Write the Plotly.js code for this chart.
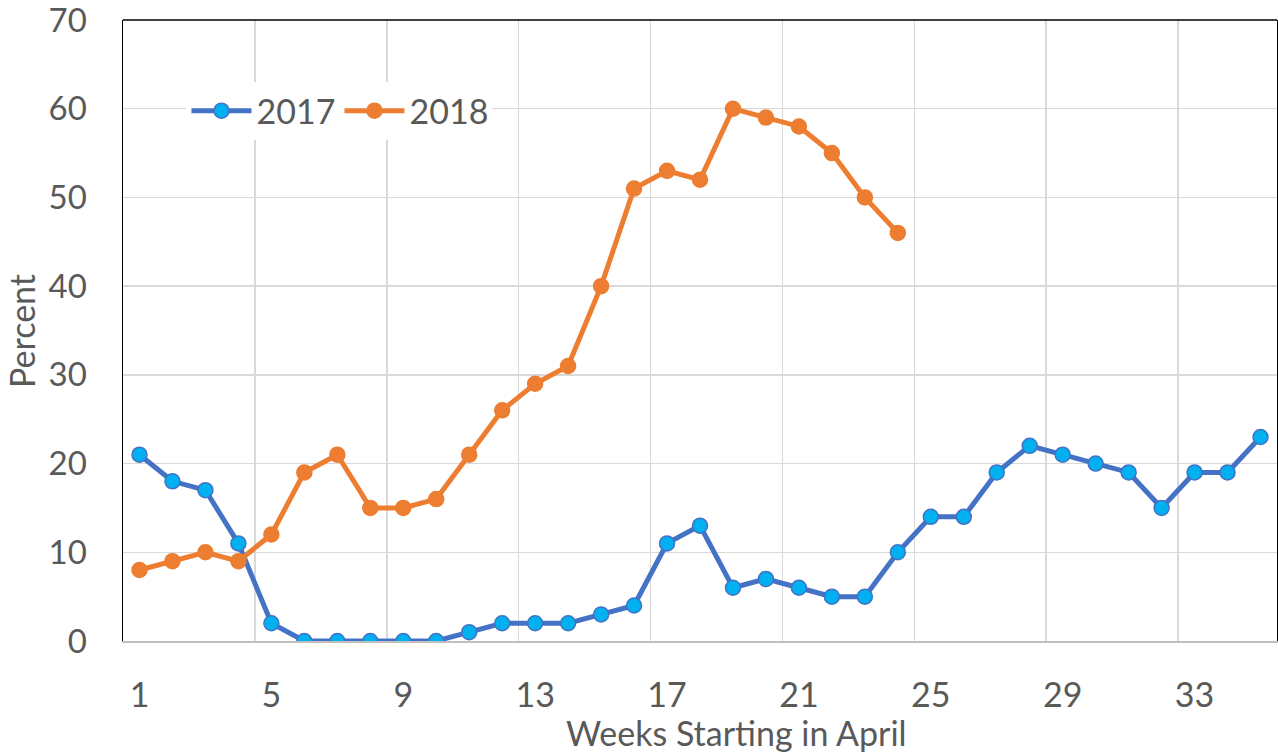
<!DOCTYPE html>
<html><head><meta charset="utf-8">
<script src="https://cdn.plot.ly/plotly-3.0.1.min.js"></script>
<style>html,body{margin:0;padding:0;background:#fff}#chart{width:1278px;height:756px}</style>
</head><body><div id="chart"></div>
<script>
const weeks2017 = [1,2,3,4,5,6,7,8,9,10,11,12,13,14,15,16,17,18,19,20,21,22,23,24,25,26,27,28,29,30,31,32,33,34,35];
const values2017 = [21,18,17,11,2,0,0,0,0,0,1,2,2,2,3,4,11,13,6,7,6,5,5,10,14,14,19,22,21,20,19,15,19,19,23];
const weeks2018 = [1,2,3,4,5,6,7,8,9,10,11,12,13,14,15,16,17,18,19,20,21,22,23,24];
const values2018 = [8,9,10,9,12,19,21,15,15,16,21,26,29,31,40,51,53,52,60,59,58,55,50,46];
const xTickVals = [1,5,9,13,17,21,25,29,33];
const xTickText = ["1","5","9","13","17","21","25","29","33"];
const seriesNames = ["2017","2018"];

const font = "Lato, 'Liberation Sans', sans-serif";
const grey = "#595959";
const fs = 34;

const traces = [
  {x: weeks2017, y: values2017, name: seriesNames[0], type: "scatter", mode: "lines+markers",
   line: {color: "#4472C4", width: 5},
   marker: {size: 15, color: "#00B0F0", line: {color: "#4472C4", width: 1.5}}},
  {x: weeks2018, y: values2018, name: seriesNames[1], type: "scatter", mode: "lines+markers",
   line: {color: "#ED7D31", width: 5},
   marker: {size: 15, color: "#ED7D31", line: {color: "#ED7D31", width: 1.5}}}
];

const layout = {
  width: 1278, height: 756,
  margin: {l: 123, r: 1, t: 20, b: 115},
  paper_bgcolor: "#fff", plot_bgcolor: "#fff",
  font: {family: font, color: grey, size: fs},
  showlegend: true,
  legend: {orientation: "h", x: 0.055, y: 0.9, xanchor: "left", yanchor: "top",
           bgcolor: "#fff", font: {size: fs, color: grey}, itemwidth: 60,
           entrywidth: 78, entrywidthmode: "pixels", tracegroupgap: 0},
  xaxis: {range: [0.5, 35.5], tickvals: xTickVals, ticktext: xTickText,
          showgrid: false, zeroline: false, showline: true, linecolor: "#BFBFBF", linewidth: 1.5,
          ticks: "outside", ticklen: 24, tickcolor: "rgba(0,0,0,0)",
          tickfont: {size: fs, color: grey}, ticklabeloverflow: "allow",
          minor: {tick0: 0.5, dtick: 4, showgrid: true, gridcolor: "#D9D9D9", gridwidth: 1.5, ticks: ""}},
  yaxis: {range: [0, 70], dtick: 10, showgrid: true, gridcolor: "#D9D9D9", gridwidth: 1.5,
          zeroline: false, showline: true, linecolor: "#000", linewidth: 1.5, mirror: true,
          ticks: "outside", ticklen: 28, tickcolor: "rgba(0,0,0,0)",
          tickfont: {size: 33, color: grey}, ticklabeloverflow: "allow"},
  shapes: [{type: "line", xref: "paper", yref: "paper", x0: 0, x1: 1, y0: 1, y1: 1,
            line: {color: "#000", width: 1.5}}],
  annotations: [
    {text: "Weeks Starting in April", xref: "paper", yref: "paper", x: 0.532, y: -0.147,
     xanchor: "center", yanchor: "middle", showarrow: false, font: {size: fs, color: grey}},
    {text: "Percent", xref: "paper", yref: "paper", x: -0.088, y: 0.5, textangle: -90,
     xanchor: "center", yanchor: "middle", showarrow: false, font: {size: fs, color: grey}}
  ]
};

Plotly.newPlot("chart", traces, layout, {displayModeBar: false, staticPlot: true});
</script></body></html>
